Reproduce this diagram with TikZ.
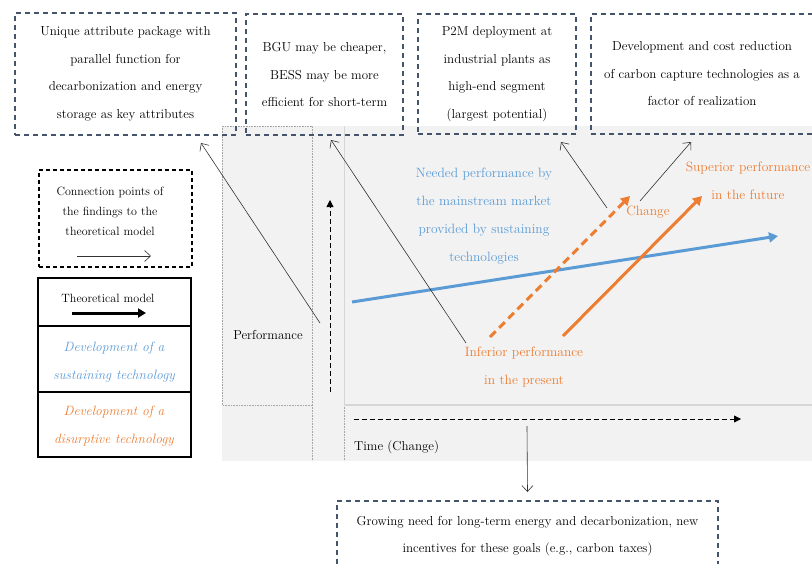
\documentclass[tikz,border=0pt]{standalone}
\usetikzlibrary{arrows.meta}
\definecolor{boxblue}{HTML}{44546A}
\definecolor{myblue}{HTML}{5B9BD5}
\definecolor{myorange}{HTML}{ED7D31}
\definecolor{bggray}{HTML}{F2F2F2}
\definecolor{dotgray}{HTML}{A6A6A6}
\definecolor{linegray}{HTML}{D6D6D6}
\begin{document}
\begin{tikzpicture}[x=1pt,y=-1pt,
  dbox/.style={draw=boxblue, line width=1.5pt, dash pattern=on 5pt off 4pt, align=center, inner sep=0pt, font=\fontsize{13}{27.5}\selectfont},
  conn/.style={draw=black!80, line width=0.6pt, -{Straight Barb[length=6pt,width=11pt]}},
  legtext/.style={align=center, inner sep=0pt, font=\fontsize{12}{20}\selectfont},
  legcell/.style={draw=black, line width=1.3pt, minimum width=153pt, inner sep=0pt},
  legital/.style={align=center, inner sep=0pt, font=\fontsize{13.5}{28}\selectfont\itshape},
  charttext/.style={align=center, inner sep=0pt, font=\fontsize{13.5}{28}\selectfont},
  axis/.style={draw=black, line width=0.8pt, dash pattern=on 5pt off 3pt, -{Triangle[length=7pt,width=7pt]}},
  bigarrow/.style={line width=3pt, -{Triangle[length=9pt,width=10pt]}}
]
\useasboundingbox (0,0) rectangle (812,563);
% background
\fill[bggray] (222,126) rectangle (812,461);
\draw[dotgray, densely dotted, line width=0.6pt] (222,126) rectangle (312,405);
\draw[dotgray, densely dotted, line width=0.6pt] (312,405) -- (312,461);
\draw[dotgray, densely dotted, line width=0.6pt] (344,405) -- (344,461);
\draw[linegray, line width=0.8pt] (344,126) -- (344,405);
\draw[linegray, line width=1.5pt] (344,405) -- (812,405);

% top boxes
\node[dbox, minimum width=221pt, minimum height=122pt] (b1) at (125.5,74) {Unique attribute package with\\parallel function for\\decarbonization and energy\\storage as key attributes};
\node[dbox, minimum width=157pt, minimum height=121pt] (b2) at (324.5,74.5) {BGU may be cheaper,\\BESS may be more\\efficient for short-term};
\node[dbox, minimum width=158pt, minimum height=120pt] (b3) at (497,74) {P2M deployment at\\industrial plants as\\high-end segment\\(largest potential)};
\node[dbox, minimum width=222pt, minimum height=120pt] (b4) at (702,74) {Development and cost reduction\\of carbon capture technologies as a\\factor of realization};
\node[dbox, minimum width=381pt, minimum height=71pt, anchor=north] (b5) at (527.5,500) {Growing need for long-term energy and decarbonization, new\\incentives for these goals (e.g., carbon taxes)};

% legend
\node[draw=black, line width=1.1pt, dash pattern=on 4pt off 3pt, minimum width=153pt, minimum height=97pt, inner sep=0pt] (lg) at (115.5,218.5) {};
\node[legtext] (lgt) at (110,211) {Connection points of\\the findings to the\\theoretical model};
\coordinate (lga) at (77,256);
\coordinate (lgb) at (151,256);
\draw[conn] (lga) -- (lgb);
\node[legcell, minimum height=48pt] (m1) at (114.5,302) {};
\node[legcell, minimum height=66pt] (m2) at (114.5,359) {};
\node[legcell, minimum height=65pt] (m3) at (114.5,424.5) {};
\node[legtext] (m1t) at (108,298) {Theoretical model};
\coordinate (m1a) at (72,313);
\coordinate (m1b) at (146,313);
\draw[line width=3pt, -{Triangle[length=8pt,width=9pt]}] (m1a) -- (m1b);
\node[legital, text=myblue] (m2t) at (114,362) {Development of a\\sustaining technology};
\node[legital, text=myorange] (m3t) at (114,426) {Development of a\\disurptive technology};

% axes
\coordinate (ya) at (330,392);
\coordinate (yb) at (330,200);
\draw[axis] (ya) -- (yb);
\coordinate (xa) at (354,419);
\coordinate (xb) at (741,419);
\draw[axis] (xa) -- (xb);
\node[charttext, font=\fontsize{13}{20}\selectfont] (perf) at (268,335) {Performance};
\node[charttext, font=\fontsize{13}{20}\selectfont, anchor=west] (time) at (354,447) {Time (Change)};

% curves
\coordinate (s1) at (352,302);
\coordinate (s2) at (778,236);
\draw[myblue, bigarrow] (s1) -- (s2);
\coordinate (d1) at (490,337);
\coordinate (d2) at (630,196);
\draw[myorange, bigarrow, dash pattern=on 8pt off 5pt] (d1) -- (d2);
\coordinate (e1) at (563,336);
\coordinate (e2) at (702,196);
\draw[myorange, bigarrow] (e1) -- (e2);

% chart labels
\node[charttext, text=myblue] (need) at (484,216) {Needed performance by\\the mainstream market\\provided by sustaining\\technologies};
\node[charttext, text=myorange] (inf) at (524,367) {Inferior performance\\in the present};
\node[charttext, text=myorange] (chg) at (648,212) {Change};
\node[charttext, text=myorange] (sup) at (748,181) {Superior performance\\in the future};

% connectors
\coordinate (c1s) at (320,323);
\coordinate (c1e) at (201,143);
\draw[conn] (c1s) -- (c1e);
\coordinate (c2s) at (466,343);
\coordinate (c2e) at (331,140);
\draw[conn] (c2s) -- (c2e);
\coordinate (c3s) at (607,208);
\coordinate (c3e) at (561,142);
\draw[conn] (c3s) -- (c3e);
\coordinate (c4s) at (640,201);
\coordinate (c4e) at (691,142);
\draw[conn] (c4s) -- (c4e);
\coordinate (c5s) at (527,426);
\draw[conn] (c5s) -- ([yshift=8pt]b5.north);
\end{tikzpicture}
\end{document}
